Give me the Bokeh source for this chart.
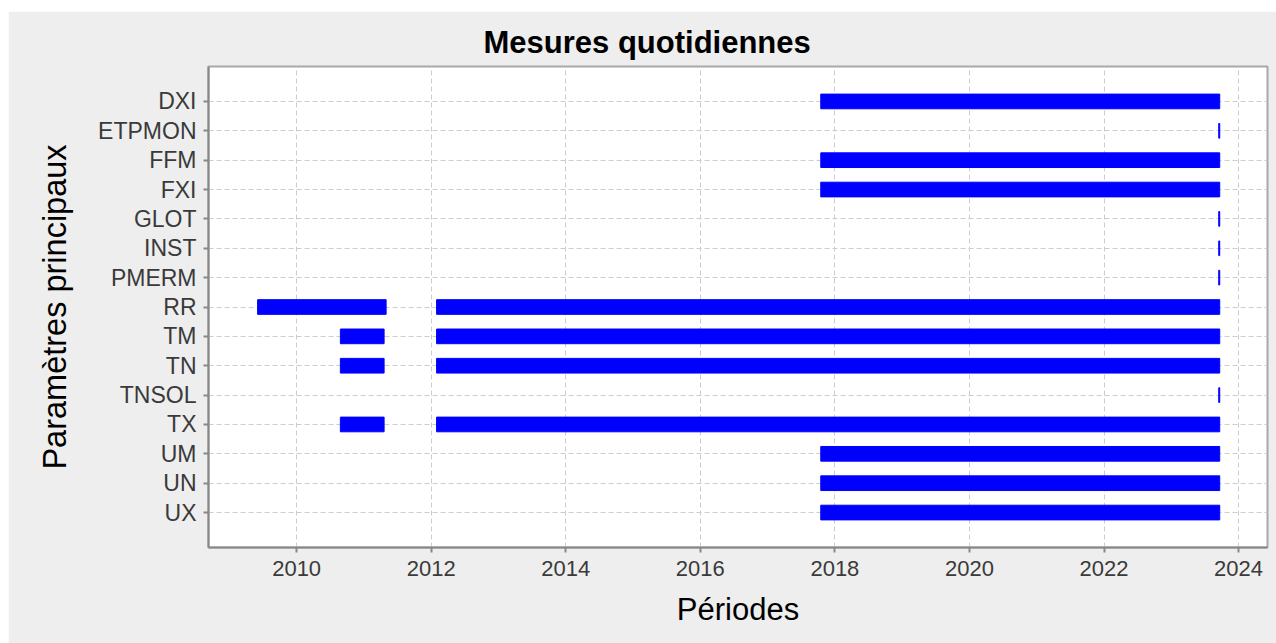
from bokeh.plotting import figure
from bokeh.models import Range1d, FactorRange, SingleIntervalTicker, ColumnDataSource
from bokeh.embed import file_html
from bokeh.resources import INLINE

# Parameters, top to bottom
params = ["DXI", "ETPMON", "FFM", "FXI", "GLOT", "INST", "PMERM", "RR",
          "TM", "TN", "TNSOL", "TX", "UM", "UN", "UX"]

# Measurement periods (decimal years)
seg_param = ["DXI", "ETPMON", "FFM", "FXI", "GLOT", "INST", "PMERM",
             "RR", "RR", "TM", "TM", "TN", "TN", "TNSOL", "TX", "TX",
             "UM", "UN", "UX"]
seg_start = [2017.79, 2023.705, 2017.79, 2017.79, 2023.705, 2023.705, 2023.705,
             2009.42, 2012.08, 2010.65, 2012.08, 2010.65, 2012.08, 2023.705,
             2010.65, 2012.08, 2017.79, 2017.79, 2017.79]
seg_end = [2023.72, 2023.72, 2023.72, 2023.72, 2023.72, 2023.72, 2023.72,
           2011.33, 2023.72, 2011.30, 2023.72, 2011.30, 2023.72, 2023.72,
           2011.30, 2023.72, 2023.72, 2023.72, 2023.72]

source = ColumnDataSource(dict(param=seg_param, start=seg_start, end=seg_end))

FONT = "Liberation Sans"

p = figure(width=1268, height=632, output_backend="svg", toolbar_location=None,
           x_range=Range1d(2008.69, 2024.43),
           y_range=FactorRange(factors=list(reversed(params)), range_padding=0.69,
                               range_padding_units="absolute"),
           min_border_left=200, min_border_top=55, min_border_right=9, min_border_bottom=96)
p.margin = (11, 0, 0, 8)

p.hbar(y="param", left="start", right="end", height=0.5, source=source,
       fill_color="#0000ff", line_color="#0000ff", line_width=1)

p.background_fill_color = "white"
p.border_fill_color = "#eeeeee"
p.outline_line_color = "#a8a8a8"
p.outline_line_width = 2

p.title.text = "Mesures quotidiennes"
p.title.align = "left"
p.title.vertical_align = "top"
p.title.offset = 275
p.title.standoff = 10
p.title.text_font = FONT
p.title.text_font_size = "31px"
p.title.text_font_style = "bold"
p.title.text_color = "black"

p.xaxis.ticker = SingleIntervalTicker(interval=2)
p.xaxis.axis_label = "Périodes"
p.yaxis.axis_label = "Paramètres principaux"
for ax in (p.xaxis, p.yaxis):
    ax.axis_label_text_font = FONT
    ax.axis_label_text_font_style = "normal"
    ax.axis_label_text_color = "black"
    ax.major_label_text_font = FONT
    ax.major_label_text_color = "#3a3a3a"
    ax.axis_line_color = "#888888"
    ax.axis_line_width = 2
    ax.major_tick_line_color = "#888888"
    ax.major_tick_line_width = 2
    ax.major_tick_in = 0
    ax.major_tick_out = 5
    ax.minor_tick_line_color = None
p.xaxis.axis_label_text_font_size = "31px"
p.yaxis.axis_label_text_font_size = "32.5px"
p.xaxis.major_label_text_font_size = "22px"
p.yaxis.major_label_text_font_size = "23px"
p.xaxis.major_label_standoff = 8
p.yaxis.major_label_standoff = 7
p.xaxis.axis_label_standoff = 13
p.yaxis.axis_label_standoff = 22

p.grid.grid_line_color = "#cccccc"
p.grid.grid_line_dash = "5 3"
p.grid.grid_line_width = 1

open("out.html", "w").write(file_html(p, INLINE))
